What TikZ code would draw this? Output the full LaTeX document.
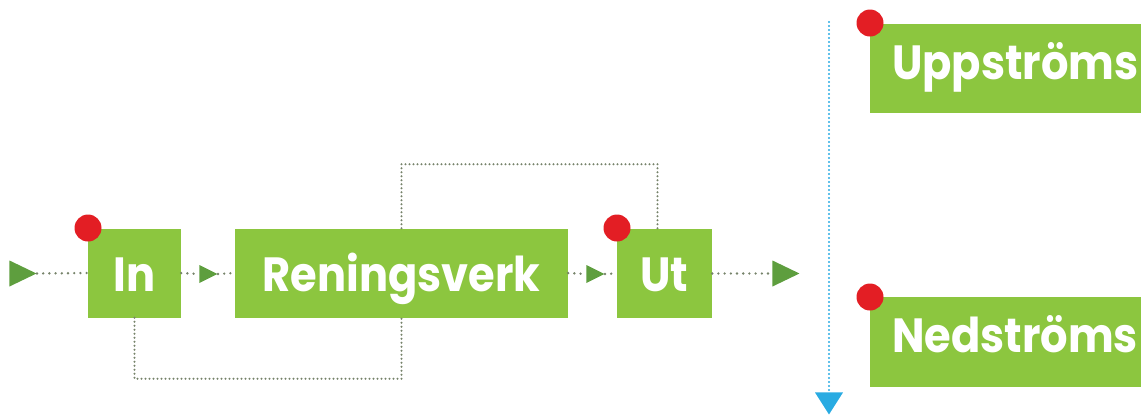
\documentclass[tikz,border=0pt]{standalone}
\usepackage{graphicx}
\usepackage{fontspec}
\newfontfamily\boxfont{Poppins}
\usetikzlibrary{shapes.geometric}
\definecolor{boxgreen}{HTML}{8CC63F}
\definecolor{tipgreen}{HTML}{5E9E3E}
\definecolor{markred}{HTML}{E31E24}
\definecolor{flowblue}{HTML}{29ABE2}
\definecolor{dotgray}{HTML}{76836A}
% labels are set slightly condensed
\newcommand\narrowlabel[1]{\scalebox{0.9}[1]{#1}}
\tikzset{
  stage/.style={rectangle, fill=boxgreen, inner sep=0pt,
    text height=62.5pt, text depth=26.5pt,
    text=white, font=\boxfont\bfseries\fontsize{48}{48}\selectfont},
  side/.style={rectangle, fill=boxgreen, inner xsep=22pt, inner ysep=0pt,
    text height=55.5pt, text depth=34pt, text width=249pt, align=left,
    text=white, font=\boxfont\bfseries\fontsize{48}{48}\selectfont},
  marker/.style={circle, fill=markred, inner sep=0pt, minimum size=27pt},
  tip/.style={isosceles triangle, isosceles triangle stretches, fill=tipgreen,
    inner sep=0pt, minimum width=#1, minimum height=#1, anchor=apex},
  bigtip/.style={isosceles triangle, isosceles triangle stretches, fill=tipgreen,
    inner sep=0pt, minimum width=26pt, minimum height=27pt, anchor=apex},
  flow/.style={draw=dotgray, line width=2.6pt, line cap=round, dash pattern=on 0pt off 6.2pt},
  loopline/.style={draw=dotgray, line width=2.2pt, line cap=round, dash pattern=on 0pt off 4pt},
  downline/.style={draw=flowblue, line width=2.2pt, line cap=round, dash pattern=on 0pt off 4pt},
  downtip/.style={isosceles triangle, isosceles triangle stretches, fill=flowblue,
    inner sep=0pt, shape border rotate=-90, minimum width=28pt, minimum height=22pt,
    anchor=apex},
}
\begin{document}
\begin{tikzpicture}[x=1pt,y=-1pt]
\useasboundingbox (0,0) rectangle (1141,416);

% process chain
\node[stage, minimum width=93pt]  (in)  at (134.5,273) {\narrowlabel{In}};
\node[stage, minimum width=333pt] (ren) at (401.5,273) {\narrowlabel{Reningsverk}};
\node[stage, minimum width=95pt]  (ut)  at (664.5,273.5) {\narrowlabel{Ut}};

% flow direction tips, placed by their apex
\node[bigtip]   (t0) at (37,273.5) {};
\node[tip=18pt] (t1) at (218,274) {};
\node[tip=18pt] (t2) at (605,274) {};
\node[bigtip]   (t3) at (800,273.5) {};

% dotted flow connectors
\draw[flow] (t0.apex) -- (in.west);
\draw[flow] (in.east) -- (t1.lower side);
\draw[flow] (t1.apex) -- (ren.west);
\draw[flow] (ren.east) -- (t2.lower side);
\draw[flow] (t2.apex) -- (ut.west);
\draw[flow] (ut.east) -- (t3.lower side);

% bypass loops
\draw[loopline] (ren.north) -- ++(0,-64) -| ([xshift=-7pt]ut.north);
\draw[loopline] (in.south) -- ++(0,61) -| (ren.south);

% receiving water, upstream / downstream
\coordinate (top) at (829,22);
\node[downtip] (tb) at (829,415) {};
\draw[downline] (top) -- (tb.lower side);

\node[side] (up)   at (1016.5,68.5) {\narrowlabel{Uppströms}};
\node[side] (down) at (1016.5,342)  {\narrowlabel{Nedströms}};

% sampling points
\node[marker] (mIn)   at (88,228)  {};
\node[marker] (mUt)   at (617,228) {};
\node[marker] (mUp)   at (870,23)  {};
\node[marker] (mDown) at (870,297) {};
\end{tikzpicture}
\end{document}
